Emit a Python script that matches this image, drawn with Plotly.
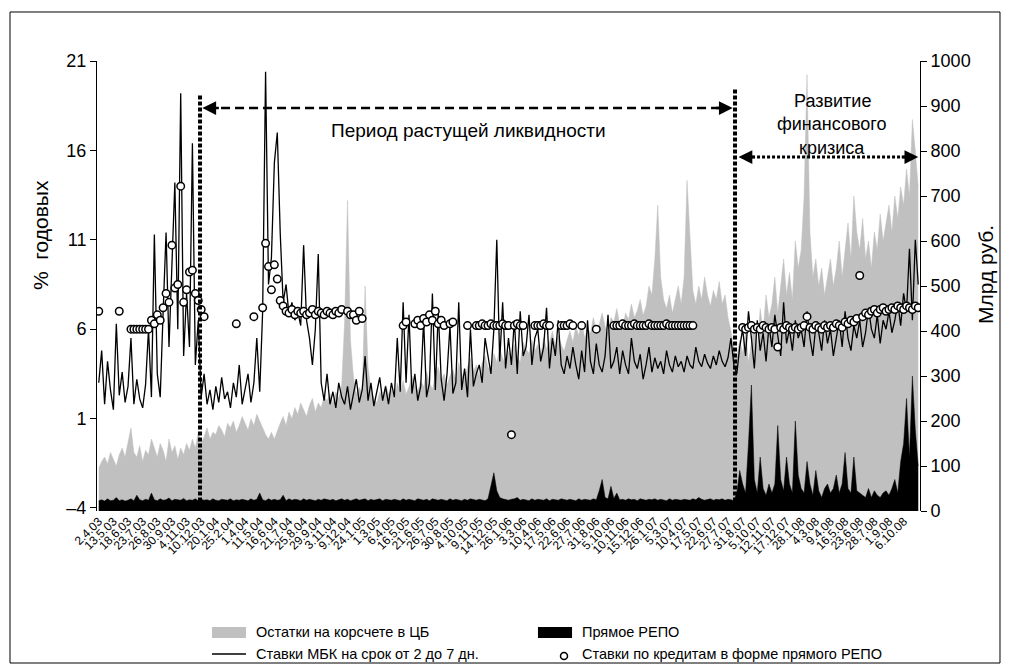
import plotly.graph_objects as go

# ---------------- data ----------------
tick_labels = ["2.4.03", "13.5.03", "18.6.03", "23.7.03", "26.8.03", "30.9.03", "4.11.03", "10.12.03",
               "20.1.04", "25.2.04", "1.4.04", "11.5.04", "16.6.04", "21.7.04", "25.8.04", "29.9.04",
               "3.11.04", "9.12.04", "24.1.05", "1.3.05", "6.4.05", "16.5.05", "21.6.05", "26.7.05",
               "30.8.05", "4.10.05", "9.11.05", "14.12.05", "26.1.06", "3.3.06", "10.4.06", "17.5.06",
               "22.6.06", "27.7.06", "31.8.06", "5.10.06", "10.11.06", "15.12.06", "26.1.07", "5.3.07",
               "10.4.07", "17.5.07", "22.6.07", "27.7.07", "31.8.07", "5.10.07", "12.11.07", "17.12.07",
               "28.1.08", "4.3.08", "9.4.08", "16.5.08", "23.6.08", "28.7.08", "1.9.08", "6.10.08"]
tick_step = 25     # trading days between labels
sample_step = 5    # values below are read about once per week (every 5 trading days)

# Остатки на корсчете в ЦБ, млрд руб.
balances = [
    95, 110, 120, 105, 130, 115, 100, 125, 140, 120,
    150, 185, 130, 120, 145, 110, 135, 125, 160, 140,
    120, 150, 135, 110, 160, 130, 145, 115, 140, 125,
    150, 135, 160, 140, 175, 150, 165, 185, 160, 175,
    170, 190, 180, 165, 195, 185, 200, 175, 190, 210,
    195, 180, 205, 190, 215, 200, 185, 170, 160, 175,
    160, 180, 195, 210, 190, 220, 205, 230, 215, 240,
    225, 210, 235, 250, 220, 240, 230, 255, 245, 260,
    240, 265, 250, 280, 420, 690, 380, 300, 260, 275,
    260, 500, 320, 270, 250, 240, 265, 255, 280, 260,
    270, 250, 285, 265, 290, 260, 275, 300, 280, 265,
    290, 275, 310, 285, 270, 300, 320, 290, 305, 280,
    300, 315, 290, 330, 305, 295, 320, 340, 310, 325,
    300, 330, 345, 320, 310, 350, 330, 360, 340, 325,
    355, 340, 370, 345, 330, 375, 360, 350, 380, 355,
    370, 345, 385, 360, 375, 400, 365, 390, 370, 355,
    380, 400, 375, 410, 390, 420, 385, 405, 395, 430,
    400, 415, 440, 410, 395, 430, 420, 450, 415, 405,
    440, 425, 460, 430, 445, 470, 435, 455, 500, 480,
    560, 680, 520, 470, 450, 480, 440, 470, 500, 460,
    520, 735, 600, 490, 460, 500, 470, 520, 480, 455,
    490, 470, 510, 460, 480, 430, 400, 360, 340, 380,
    350, 400, 330, 380, 420, 360, 450, 400, 480, 430,
    460, 520, 440, 500, 560, 480, 530, 470, 600, 540,
    580, 700, 970, 620, 520, 560, 500, 540, 480, 520,
    560, 500, 540, 600, 520, 580, 640, 560, 700, 620,
    580, 650, 560, 600, 540, 620, 580, 660, 600, 640,
    680, 620, 700, 650, 720, 680, 760, 700, 870, 800,
    720,
]

# Прямое РЕПО, млрд руб.
repo = [
    23, 25, 22, 27, 23, 24, 30, 23, 25, 22,
    24, 27, 23, 35, 25, 23, 26, 24, 40, 25,
    23, 27, 24, 25, 29, 23, 26, 25, 24, 28,
    23, 25, 24, 27, 23, 26, 24, 25, 23, 27,
    24, 23, 26, 25, 24, 27, 23, 25, 24, 26,
    25, 23, 27, 24, 26, 40, 25, 23, 27, 24,
    26, 24, 25, 35, 23, 27, 24, 26, 25, 23,
    27, 24, 26, 25, 23, 26, 24, 27, 25, 24,
    26, 23, 25, 27, 24, 26, 23, 25, 27, 24,
    25, 27, 23, 26, 24, 25, 27, 23, 26, 25,
    24, 26, 25, 23, 27, 24, 26, 25, 23, 27,
    25, 24, 26, 23, 27, 25, 24, 26, 25, 23,
    27, 24, 26, 25, 23, 26, 24, 27, 25, 24,
    26, 25, 23, 27, 60, 85, 45, 30, 27, 25,
    24, 26, 27, 30, 24, 26, 25, 23, 27, 24,
    26, 25, 24, 27, 23, 26, 25, 24, 27, 25,
    24, 26, 25, 23, 27, 24, 26, 25, 24, 27,
    25, 45, 70, 30, 27, 55, 28, 40, 25, 26,
    24, 27, 25, 26, 23, 27, 25, 24, 26, 25,
    27, 24, 26, 25, 23, 27, 24, 26, 25, 24,
    26, 25, 24, 27, 25, 30, 26, 24, 25, 27,
    24, 26, 25, 27, 24, 26, 25, 23, 40, 90,
    60, 40, 150, 280, 70, 40, 120, 50, 35, 60,
    40, 60, 190, 70, 45, 120, 60, 40, 200, 80,
    50, 40, 110, 60, 35, 90, 45, 30, 50, 60,
    40, 50, 80, 40, 60, 130, 50, 40, 120, 45,
    40, 35, 30, 50, 30, 45, 35, 30, 40, 45,
    35, 50, 70, 40, 110, 150, 250, 120, 300, 180,
    100,
]

# Ставки МБК на срок от 2 до 7 дн., % годовых
mbk_rates = [
    3.0, 4.8, 1.8, 4.2, 2.6, 1.5, 6.3, 2.3, 3.6, 1.9,
    2.8, 5.5, 1.8, 3.2, 2.1, 1.6, 2.9, 6.0, 2.2, 11.3,
    3.5, 2.2, 7.0, 11.4, 5.0, 9.5, 14.2, 6.0, 19.2, 4.5,
    8.0, 5.0, 16.4, 4.0, 6.5, 2.2, 3.5, 1.8, 2.6, 1.5,
    2.8, 1.9, 3.3, 2.1, 2.5, 1.6, 3.0, 2.2, 4.0, 1.8,
    2.6, 3.5, 1.9, 3.0, 5.5, 2.5, 7.0, 20.4, 8.5, 10.0,
    15.3, 17.0, 11.4, 7.5, 8.5, 6.8, 7.5, 6.5, 7.0, 6.2,
    10.7, 6.5, 5.5, 4.0, 6.0, 10.2, 3.0, 2.0, 3.5, 1.8,
    2.5, 1.6, 3.0, 2.2, 1.8, 2.8, 1.5, 2.4, 3.2, 1.9,
    2.6, 4.5, 2.0, 3.0, 1.7, 2.5, 3.3, 2.0, 2.8, 1.8,
    3.0, 2.2, 5.5, 2.5, 7.5, 3.0, 6.8, 2.4, 3.5, 2.0,
    2.8, 6.5, 2.2, 3.0, 8.0, 2.6, 7.0, 3.2, 2.0, 3.5,
    6.2, 2.4, 3.0, 7.5, 2.6, 3.8, 2.2, 6.0, 2.8, 3.5,
    4.0, 3.0, 5.5, 4.5, 3.5, 6.0, 11.0, 4.2, 7.5, 3.8,
    5.5, 4.0, 6.5, 3.5, 7.0, 4.5, 5.0, 6.8, 4.0, 5.5,
    6.0, 4.2, 5.0, 7.2, 3.8, 5.5, 4.5, 6.5, 4.0, 3.5,
    4.5, 3.8, 5.0, 4.0, 3.2, 4.8, 3.6, 6.5, 4.2, 3.5,
    5.2, 4.0, 3.6, 4.5, 6.8, 3.8, 4.2, 5.0, 3.5, 4.8,
    4.0, 3.5, 5.5, 4.2, 3.8, 4.6, 3.2, 4.0, 5.0, 3.6,
    4.4, 3.8, 4.2, 3.5, 4.8, 4.0, 3.6, 4.5, 3.9, 4.2,
    3.6, 4.5, 4.0, 3.8, 5.0, 4.2, 3.9, 4.6, 4.1, 3.8,
    4.5, 4.0, 4.8, 4.2, 3.9, 4.4, 5.5, 4.0, 3.5, 5.0,
    6.0, 4.5, 7.0, 5.5, 3.8, 6.5, 4.8, 5.8, 4.2, 6.2,
    5.0, 6.8, 5.5, 4.5, 7.5, 5.2, 6.0, 4.8, 6.5, 5.5,
    6.0, 5.0, 7.0, 5.5, 4.5, 6.2, 5.8, 4.8, 6.5, 5.2,
    6.0, 4.5, 5.5, 6.5, 5.0, 7.0, 5.5, 4.8, 6.2, 5.5,
    6.5, 5.0, 5.8, 7.2, 6.0, 5.5, 6.8, 5.2, 6.5, 6.0,
    7.0, 5.8, 6.5, 7.5, 6.2, 8.0, 7.0, 10.5, 6.5, 11.0,
    8.5,
]

# Ставки по кредитам в форме прямого РЕПО, % годовых (None = no deals)
N = None
repo_rates = [
    7.0, N, N, N, N, N, N, 7.0, N, N,
    N, 6.0, 6.0, 6.0, 6.0, 6.0, 6.0, 6.0, 6.5, 6.3,
    6.8, 6.5, 7.2, 8.0, 7.5, 10.7, 8.3, 8.5, 14.0, 7.5,
    8.2, 9.2, 9.3, 8.0, 7.6, 7.1, 6.7, N, N, N,
    N, N, N, N, N, N, N, 6.3, N, N,
    N, N, N, 6.7, N, N, 7.2, 10.8, 9.5, 8.2,
    9.6, 8.8, 7.6, 7.3, 7.0, 6.9, 7.1, 6.8, 7.0, 6.9,
    7.0, 6.8, 6.9, 7.1, 6.8, 7.0, 6.9, 6.8, 7.0, 6.9,
    6.8, 7.0, 6.9, 7.1, N, 7.0, 6.8, 6.8, 6.5, 7.0,
    6.6, N, N, N, N, N, N, N, N, N,
    N, N, N, N, 6.2, 6.4, N, N, 6.3, 6.5,
    6.2, 6.6, 6.4, 6.8, 6.5, 7.0, 6.3, 6.5, 6.2, N,
    6.3, 6.4, N, N, N, N, 6.2, N, N, 6.2,
    6.2, 6.3, 6.2, 6.2, 6.3, 6.2, 6.2, 6.2, 6.3, 6.2,
    6.2, 0.1, 6.2, 6.3, 6.2, 6.2, N, N, N, 6.2,
    6.2, 6.2, 6.3, 6.2, 6.2, N, N, N, 6.2, 6.2,
    6.2, 6.3, 6.2, N, N, 6.2, N, N, N, N,
    6.0, N, N, N, N, N, 6.2, 6.2, 6.2, 6.3,
    6.2, 6.2, 6.2, 6.3, 6.2, 6.2, 6.2, 6.2, 6.3, 6.2,
    6.2, 6.2, 6.2, 6.2, 6.3, 6.2, 6.2, 6.2, 6.2, 6.2,
    6.2, 6.2, 6.2, 6.2, N, N, N, N, N, N,
    N, N, N, N, N, N, N, N, N, N,
    6.1, 6.0, 6.1, 6.2, 6.0, 6.1, 6.0, 6.2, 6.1, 6.0,
    6.1, 6.0, 5.0, 6.1, 6.0, 6.2, 6.1, 6.0, 6.1, 6.0,
    6.1, 6.2, 6.7, 6.1, 6.0, 6.2, 6.1, 6.0, 6.2, 6.1,
    6.2, 6.1, 6.3, 6.2, 6.1, 6.4, 6.3, 6.5, 6.4, 6.6,
    9.0, 6.7, 6.9, 6.8, 7.0, 7.1, 6.9, 7.1, 7.2, 7.0,
    7.1, 7.2, 7.1, 7.3, 7.2, 7.1, 7.3, 7.2, 7.1, 7.3,
    7.2,
]

# positions of the period marks (trading-day index)
liquidity_start = 173
crisis_start = 1087
crisis_end = 1400

tick_days = [i * tick_step for i in range(len(tick_labels))]
def days_for(series):
    return [i * sample_step for i in range(len(series))]

FONT = "Liberation Sans, Arial, sans-serif"

fig = go.Figure()
fig.add_trace(go.Scatter(x=days_for(balances), y=balances, yaxis="y", mode="lines",
                         fill="tozeroy", fillcolor="#c0c0c0",
                         line=dict(color="#c0c0c0", width=0.5), hoverinfo="skip"))
fig.add_trace(go.Scatter(x=days_for(repo), y=repo, yaxis="y", mode="lines",
                         fill="tozeroy", fillcolor="black",
                         line=dict(color="black", width=0.5), hoverinfo="skip"))
fig.add_trace(go.Scatter(x=days_for(mbk_rates), y=mbk_rates, yaxis="y2", mode="lines",
                         line=dict(color="black", width=1.3)))
fig.add_trace(go.Scatter(x=days_for(repo_rates), y=repo_rates, yaxis="y2", mode="markers",
                         marker=dict(symbol="circle", size=7.5, color="white",
                                     line=dict(color="black", width=1.5))))

y2_bottom = -4.17
shapes = [
    # vertical dotted period borders
    dict(type="line", xref="x", yref="y2", x0=liquidity_start, x1=liquidity_start,
         y0=y2_bottom + 0.2, y1=19.1, line=dict(color="black", width=4, dash="4px,2px")),
    dict(type="line", xref="x", yref="y2", x0=crisis_start, x1=crisis_start,
         y0=y2_bottom + 0.2, y1=19.5, line=dict(color="black", width=4, dash="4px,2px")),
    # horizontal arrows
    dict(type="line", xref="x", yref="y2", x0=liquidity_start + 12, x1=crisis_start - 12,
         y0=18.37, y1=18.37, line=dict(color="black", width=2.5, dash="9px,5px")),
    dict(type="line", xref="x", yref="y2", x0=crisis_start + 12, x1=crisis_end - 12,
         y0=15.63, y1=15.63, line=dict(color="black", width=3, dash="3px,2px")),
    # frame
    dict(type="rect", xref="paper", yref="paper", x0=-0.1057, x1=1.0972, y0=-0.3378, y1=1.1089,
         line=dict(color="black", width=1)),
    # legend symbols
    dict(type="rect", xref="paper", yref="paper", x0=0.1397, x1=0.1810, y0=-0.2822, y1=-0.2578,
         fillcolor="#c0c0c0", line=dict(width=0)),
    dict(type="line", xref="paper", yref="paper", x0=0.1397, x1=0.1810, y0=-0.3178, y1=-0.3178,
         line=dict(color="black", width=1.5)),
    dict(type="rect", xref="paper", yref="paper", x0=0.5358, x1=0.5772, y0=-0.2822, y1=-0.2578,
         fillcolor="black", line=dict(width=0)),
    dict(type="circle", xref="paper", yref="paper", x0=0.5632, x1=0.5717, y0=-0.3300, y1=-0.3144,
         line=dict(color="black", width=1.5)),
]

def arrowhead(x, y, ax):
    return dict(x=x, y=y, xref="x", yref="y2", ax=ax, ay=0, axref="pixel", ayref="pixel",
                text="", showarrow=True, arrowhead=2, arrowsize=1.1, arrowwidth=2.5,
                arrowcolor="black")

def note(x, y, text, size, xref="paper", yref="paper", xanchor="center", angle=0):
    return dict(x=x, y=y, xref=xref, yref=yref, text=text, showarrow=False,
                xanchor=xanchor, yanchor="middle", textangle=angle, font=dict(size=size))

annotations = [
    arrowhead(liquidity_start + 4, 18.37, 18),
    arrowhead(crisis_start - 4, 18.37, -18),
    arrowhead(crisis_start + 6, 15.63, 18),
    arrowhead(crisis_end, 15.63, -18),
    note(631, 17.14, "Период растущей ликвидности", 19, "x", "y2"),
    note(1253, 18.78, "Развитие", 18, "x", "y2"),
    note(1253, 17.49, "финансового", 18, "x", "y2"),
    note(1253, 16.15, "кризиса", 18, "x", "y2"),
    # axis titles
    note(-0.0693, 0.6133, "%  годовых", 21, angle=-90),
    note(1.0790, 0.5244, "Млрд руб.", 21, angle=-90),
    # legend texts
    note(0.1908, -0.2689, "Остатки на корсчете в ЦБ", 14.5, xanchor="left"),
    note(0.1908, -0.3178, "Ставки МБК на срок от 2 до 7 дн.", 14.5, xanchor="left"),
    note(0.5869, -0.2689, "Прямое РЕПО", 14.5, xanchor="left"),
    note(0.5869, -0.3178, "Ставки по кредитам в форме прямого РЕПО", 14.5, xanchor="left"),
]

fig.update_layout(
    width=1009, height=668,
    margin=dict(l=97, r=89, t=61, b=157),
    plot_bgcolor="white", paper_bgcolor="white",
    showlegend=False,
    font=dict(family=FONT, color="black"),
    shapes=shapes, annotations=annotations,
    xaxis=dict(range=[-3, 1403], tickmode="array", tickvals=tick_days, ticktext=tick_labels,
               tickangle=-45, tickfont=dict(size=12, color="black"), showgrid=False, zeroline=False,
               showline=False, ticks=""),
    yaxis=dict(side="right", range=[0, 1000], tickmode="array",
               tickvals=[0, 100, 200, 300, 400, 500, 600, 700, 800, 900, 1000],
               ticks="outside", ticklen=6, tickcolor="black", showline=True, linecolor="black",
               linewidth=1, tickfont=dict(size=18), showgrid=False, zeroline=False),
    yaxis2=dict(overlaying="y", side="left", anchor="x", range=[y2_bottom, 21], tickmode="array",
                tickvals=[-4, 1, 6, 11, 16, 21], ticktext=["–4", "1", "6", "11", "16", "21"],
                ticks="outside", ticklen=6, tickcolor="black", showline=True, linecolor="black",
                linewidth=1, tickfont=dict(size=18), showgrid=False, zeroline=False),
)

fig.write_html("out.html")
